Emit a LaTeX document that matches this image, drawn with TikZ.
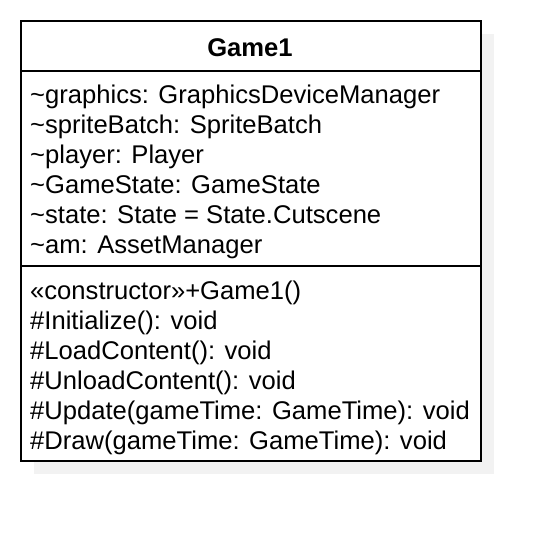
\documentclass[tikz,border=0pt]{standalone}
\usepackage{fontspec}
\setmainfont{Liberation Sans}
\definecolor{shadowgray}{HTML}{F2F2F2}
\begin{document}
\begin{tikzpicture}[x=1pt,y=-1pt,
  classbox/.style={draw=black,line width=1.6pt,fill=white,inner sep=0pt,minimum width=460pt,minimum height=440pt,anchor=north west},
  shadowbox/.style={fill=shadowgray,inner sep=0pt,minimum width=460pt,minimum height=440pt,anchor=north west},
  member/.style={anchor=base west,inner sep=0pt,font=\fontsize{25.6}{30}\selectfont},
  title/.style={anchor=base,inner sep=0pt,font=\fontsize{25.6}{30}\selectfont\bfseries},
  divider/.style={line width=1.6pt}]
\useasboundingbox (0,0) rectangle (558,540);
\node[shadowbox] (shadow) at (34,34) {};
\node[classbox] (box) at (20,20) {};
\coordinate (d1l) at (20,71);
\coordinate (d1r) at (480,71);
\coordinate (d2l) at (20,266);
\coordinate (d2r) at (480,266);
\draw[divider] (d1l) -- (d1r);
\draw[divider] (d2l) -- (d2r);
\node[title] (t) at (250,57) {Game1};
\node[member] (a1) at (30,104) {\textasciitilde graphics: GraphicsDeviceManager};
\node[member] (a2) at (30,134) {\textasciitilde spriteBatch: SpriteBatch};
\node[member] (a3) at (30,164) {\textasciitilde player: Player};
\node[member] (a4) at (30,194) {\textasciitilde GameState: GameState};
\node[member] (a5) at (30,224) {\textasciitilde state: State = State.Cutscene};
\node[member] (a6) at (30,254) {\textasciitilde am: AssetManager};
\node[member] (m1) at (30,300) {«constructor»+Game1()};
\node[member] (m2) at (30,330) {\#Initialize(): void};
\node[member] (m3) at (30,360) {\#LoadContent(): void};
\node[member] (m4) at (30,390) {\#UnloadContent(): void};
\node[member] (m5) at (30,420) {\#Update(gameTime: GameTime): void};
\node[member] (m6) at (30,450) {\#Draw(gameTime: GameTime): void};
\end{tikzpicture}
\end{document}
